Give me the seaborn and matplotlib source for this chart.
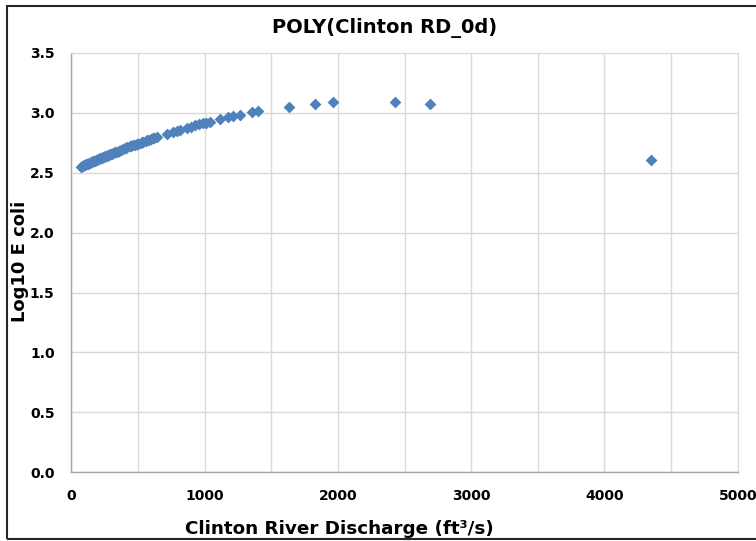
import matplotlib
matplotlib.use("Agg")
import matplotlib.pyplot as plt
import matplotlib.patches as mpatches
import seaborn as sns
import pandas as pd

discharge = [70, 78, 85, 93, 100, 108, 115, 123, 130, 138, 145, 153, 160, 168, 175, 183,
             190, 198, 205, 213, 220, 228, 235, 243, 250, 258, 265, 273, 280, 288,
             295, 303, 310, 325, 330, 340, 355, 360, 370, 385, 400, 410, 420, 440, 450,
             460, 480, 490, 500, 520, 530, 540, 560, 570, 580, 600, 610, 620, 645,
             720, 760, 790, 817, 870, 900, 930, 960, 985, 1010,
             1042, 1117, 1177, 1210, 1267, 1357, 1402, 1634, 1829, 1964, 2429, 2691, 4348]
log_ecoli = [2.551, 2.555, 2.559, 2.563, 2.566, 2.570, 2.573, 2.577, 2.581, 2.585, 2.588,
             2.592, 2.595, 2.599, 2.602, 2.606, 2.609, 2.613, 2.616, 2.620, 2.623, 2.627,
             2.630, 2.634, 2.637, 2.641, 2.644, 2.648, 2.651, 2.654, 2.658, 2.661, 2.664,
             2.671, 2.673, 2.677, 2.684, 2.686, 2.690, 2.697, 2.703, 2.707, 2.712, 2.720,
             2.724, 2.728, 2.736, 2.740, 2.744, 2.752, 2.756, 2.760, 2.768, 2.772, 2.776,
             2.783, 2.787, 2.791, 2.800,
             2.827, 2.841, 2.851, 2.860, 2.877, 2.886, 2.895, 2.904, 2.912,
             2.919, 2.928, 2.948, 2.963, 2.971, 2.985, 3.004, 3.013, 3.053, 3.076, 3.088,
             3.095, 3.078, 2.610]
x_ticks = [0, 1000, 2000, 3000, 4000, 5000]
y_ticks = [0.0, 0.5, 1.0, 1.5, 2.0, 2.5, 3.0, 3.5]
title = "POLY(Clinton RD_0d)"
x_label = "Clinton River Discharge (ft³/s)"
y_label = "Log10 E coli"

df = pd.DataFrame({"q": discharge, "e": log_ecoli})

sns.set_style("white")
plt.rcParams['font.family'] = ['DejaVu Sans']
plt.rcParams['text.color'] = 'black'
plt.rcParams['xtick.color'] = 'black'
plt.rcParams['ytick.color'] = 'black'

fig = plt.figure(figsize=(7.56, 5.41), dpi=100)
ax = fig.add_axes([71.3 / 756, 1 - 472.3 / 541, (737.7 - 71.3) / 756, (472.3 - 53) / 541])

sns.scatterplot(data=df, x="q", y="e", ax=ax, marker="D", s=36, color="#4F81BD",
                edgecolor="#4F81BD", linewidth=0, zorder=3)

ax.set_xlim(0, 5000)
ax.set_ylim(0, 3.5)
ax.set_xticks(x_ticks)
ax.set_yticks(y_ticks)
ax.set_xticks(range(500, 5000, 1000), minor=True)
ax.set_xticklabels([str(t) for t in x_ticks], fontsize=10, fontweight="bold", color="black")
ax.set_yticklabels([f"{t:.1f}" for t in y_ticks], fontsize=10, fontweight="bold", color="black")
ax.grid(True, which="both", axis="x", color="#D9D9D9", linewidth=1)
ax.grid(True, which="major", axis="y", color="#D9D9D9", linewidth=1)
ax.tick_params(axis="both", which="major", length=4, color="#A6A6A6", width=1)
ax.tick_params(axis="x", which="minor", length=0)
ax.tick_params(axis="x", pad=8)
ax.tick_params(axis="y", pad=8)
for side in ["top", "right"]:
    ax.spines[side].set_visible(True)
    ax.spines[side].set_color("#D9D9D9")
for side in ["left", "bottom"]:
    ax.spines[side].set_color("#A6A6A6")
    ax.spines[side].set_linewidth(1)
ax.set_xlabel("")
ax.set_ylabel("")

fig.text(385 / 756, 1 - 28 / 541, title, ha="center", va="center", fontsize=14, fontweight="bold")
fig.text(339 / 756, 1 - 529 / 541, x_label, ha="center", va="center", fontsize=13.2, fontweight="bold")
fig.text(20 / 756, 1 - 261 / 541, y_label, ha="center", va="center", rotation=90, fontsize=13, fontweight="bold")

border = mpatches.Rectangle((7 / 756, 1 - 539 / 541), 760 / 756, 533 / 541, transform=fig.transFigure,
                            fill=False, edgecolor="#262626", linewidth=1.5)
fig.patches.append(border)

fig.savefig("out.png", dpi=100)
